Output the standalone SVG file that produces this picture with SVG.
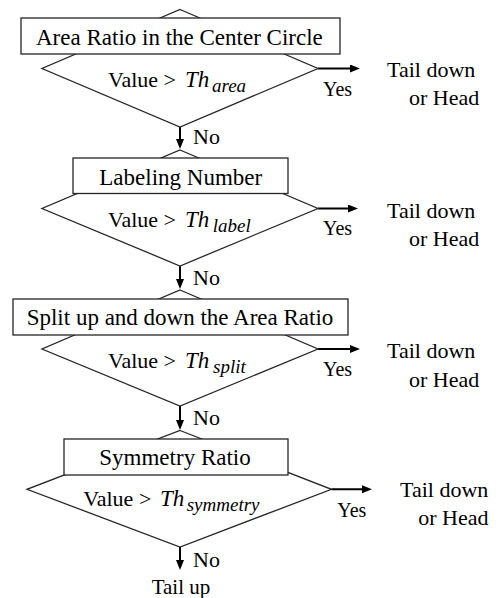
<svg xmlns="http://www.w3.org/2000/svg" width="501" height="598" viewBox="0 0 501 598">
<style>
.shape{fill:#fff;stroke:#262626;stroke-width:1.3}
.conn{stroke:#000;stroke-width:2;fill:none}
</style>
<defs>
<marker id="ah" markerUnits="userSpaceOnUse" markerWidth="11" markerHeight="9" refX="5" refY="4" orient="auto">
<path d="M0,0 L10,4 L0,8 z" fill="#000"/>
</marker>
</defs>
<rect width="501" height="598" fill="#fff"/>
<g id="connectors">
<line class="conn" x1="180" y1="127" x2="180" y2="144" marker-end="url(#ah)"/>
<line class="conn" x1="180" y1="266" x2="180" y2="284" marker-end="url(#ah)"/>
<line class="conn" x1="180" y1="406" x2="180" y2="425" marker-end="url(#ah)"/>
<line class="conn" x1="180" y1="547" x2="180" y2="565" marker-end="url(#ah)"/>
<line class="conn" x1="318" y1="68.5" x2="355" y2="68.5" marker-end="url(#ah)"/>
<line class="conn" x1="318" y1="208.5" x2="353" y2="208.5" marker-end="url(#ah)"/>
<line class="conn" x1="318" y1="349" x2="355" y2="349" marker-end="url(#ah)"/>
<line class="conn" x1="331.5" y1="489.3" x2="367" y2="489.3" marker-end="url(#ah)"/>
</g>
<g id="node1">
<polygon class="shape" points="180,9.5 318,68.5 180,127 42,68.5"/>
<rect class="shape" x="21" y="18" width="319" height="36"/>
<text x="36" y="44.5" font-family="Liberation Serif" font-size="23">Area Ratio in the Center Circle</text>
<text x="108" y="87" font-family="Liberation Serif" font-size="22">Value &gt;</text>
<text x="185" y="87" font-family="Liberation Serif" font-size="23" font-style="italic">Th</text>
<text x="212" y="92" font-family="Liberation Serif" font-size="19" font-style="italic">area</text>
</g>
<g id="yes1">
<text x="323" y="95.5" font-family="Liberation Serif" font-size="20">Yes</text>
<text x="387" y="77" font-family="Liberation Serif" font-size="22">Tail down</text>
<text x="409" y="105" font-family="Liberation Serif" font-size="22">or Head</text>
</g>
<g id="node2">
<polygon class="shape" points="180,150 318,208.5 180,266 42,208.5"/>
<rect class="shape" x="73" y="158" width="215" height="35.5"/>
<text x="99.3" y="185" font-family="Liberation Serif" font-size="23">Labeling Number</text>
<text x="108" y="227" font-family="Liberation Serif" font-size="22">Value &gt;</text>
<text x="185" y="227" font-family="Liberation Serif" font-size="23" font-style="italic">Th</text>
<text x="212.7" y="232" font-family="Liberation Serif" font-size="19" font-style="italic">label</text>
</g>
<g id="yes2">
<text x="323" y="235" font-family="Liberation Serif" font-size="20">Yes</text>
<text x="387" y="218" font-family="Liberation Serif" font-size="22">Tail down</text>
<text x="409" y="246" font-family="Liberation Serif" font-size="22">or Head</text>
</g>
<g id="node3">
<polygon class="shape" points="180,290 318,349 180,406 42,349"/>
<rect class="shape" x="13" y="299" width="335" height="36"/>
<text x="26.7" y="325" font-family="Liberation Serif" font-size="23">Split up and down the Area Ratio</text>
<text x="108" y="367.5" font-family="Liberation Serif" font-size="22">Value &gt;</text>
<text x="185" y="367.5" font-family="Liberation Serif" font-size="23" font-style="italic">Th</text>
<text x="213" y="372.5" font-family="Liberation Serif" font-size="19" font-style="italic">split</text>
</g>
<g id="yes3">
<text x="323" y="376" font-family="Liberation Serif" font-size="20">Yes</text>
<text x="387" y="358.3" font-family="Liberation Serif" font-size="22">Tail down</text>
<text x="409" y="386.5" font-family="Liberation Serif" font-size="22">or Head</text>
</g>
<g id="node4">
<polygon class="shape" points="180,430.5 331.5,489.3 180,547 27,489.3"/>
<rect class="shape" x="64" y="439" width="224" height="36"/>
<text x="99.3" y="465" font-family="Liberation Serif" font-size="23">Symmetry Ratio</text>
<text x="83.3" y="506" font-family="Liberation Serif" font-size="22">Value &gt;</text>
<text x="160" y="506" font-family="Liberation Serif" font-size="23" font-style="italic">Th</text>
<text x="186.7" y="511" font-family="Liberation Serif" font-size="19" font-style="italic">symmetry</text>
</g>
<g id="yes4">
<text x="337.3" y="516.7" font-family="Liberation Serif" font-size="20">Yes</text>
<text x="400" y="496.7" font-family="Liberation Serif" font-size="22">Tail down</text>
<text x="418.3" y="525" font-family="Liberation Serif" font-size="22">or Head</text>
</g>
<g id="no-labels">
<text x="193" y="144" font-family="Liberation Serif" font-size="22">No</text>
<text x="193" y="284.5" font-family="Liberation Serif" font-size="22">No</text>
<text x="193" y="425" font-family="Liberation Serif" font-size="22">No</text>
<text x="193" y="566.7" font-family="Liberation Serif" font-size="22">No</text>
</g>
<g id="end">
<text x="151.7" y="594" font-family="Liberation Serif" font-size="21">Tail up</text>
</g>
</svg>
